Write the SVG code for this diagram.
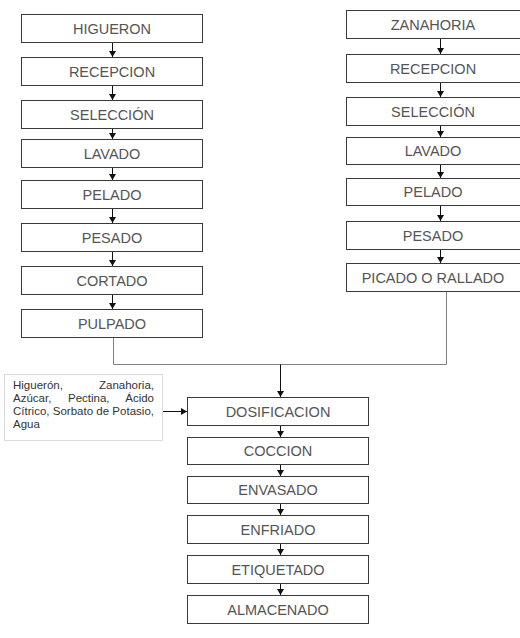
<svg xmlns="http://www.w3.org/2000/svg" width="520" height="638" viewBox="0 0 520 638">
<style>
.box{fill:#fff;stroke:#3a3a3a;stroke-width:1}
.lbl{font-family:"Liberation Sans",Arial,sans-serif;font-size:14.5px;fill:#555;text-anchor:middle}
.ing{font-family:"Liberation Sans",Arial,sans-serif;font-size:11.5px;fill:#333}
.arr{stroke:#111;stroke-width:1;fill:none;marker-end:url(#ah)}
.join{stroke:#808080;stroke-width:1;fill:none}
</style>
<defs>
<marker id="ah" markerWidth="8" markerHeight="8" refX="6" refY="3.5" orient="auto" markerUnits="userSpaceOnUse">
<path d="M0,0 L6,3.5 L0,7 Z" fill="#111"/>
</marker>
</defs>
<g id="connectors">
<line class="arr" x1="112.5" y1="42" x2="112.5" y2="57"/>
<line class="arr" x1="112.5" y1="85" x2="112.5" y2="100"/>
<line class="arr" x1="112.5" y1="128" x2="112.5" y2="139"/>
<line class="arr" x1="112.5" y1="167" x2="112.5" y2="180"/>
<line class="arr" x1="112.5" y1="208" x2="112.5" y2="223"/>
<line class="arr" x1="112.5" y1="252" x2="112.5" y2="266"/>
<line class="arr" x1="112.5" y1="294" x2="112.5" y2="309"/>
<line class="arr" x1="440.5" y1="39" x2="440.5" y2="54"/>
<line class="arr" x1="440.5" y1="82" x2="440.5" y2="97"/>
<line class="arr" x1="440.5" y1="125" x2="440.5" y2="137"/>
<line class="arr" x1="440.5" y1="164" x2="440.5" y2="178"/>
<line class="arr" x1="440.5" y1="205" x2="440.5" y2="221"/>
<line class="arr" x1="440.5" y1="249" x2="440.5" y2="263"/>
<polyline class="join" points="113.5,337 113.5,364.5 446.5,364.5 446.5,291"/>
<line class="arr" x1="280.5" y1="364.5" x2="280.5" y2="397"/>
<line class="arr" x1="155" y1="411.5" x2="187" y2="411.5"/>
<line class="arr" x1="280.5" y1="425" x2="280.5" y2="437"/>
<line class="arr" x1="280.5" y1="464" x2="280.5" y2="476"/>
<line class="arr" x1="280.5" y1="503" x2="280.5" y2="515"/>
<line class="arr" x1="280.5" y1="543" x2="280.5" y2="555"/>
<line class="arr" x1="280.5" y1="583" x2="280.5" y2="595"/>
</g>
<g id="higueron"><rect class="box" x="21.5" y="14.5" width="181" height="28"/><text class="lbl" x="112" y="33.5">HIGUERON</text></g>
<g id="recepcion1"><rect class="box" x="21.5" y="57.5" width="181" height="28"/><text class="lbl" x="112" y="76.5">RECEPCION</text></g>
<g id="seleccion1"><rect class="box" x="21.5" y="100.5" width="181" height="28"/><text class="lbl" x="112" y="119.5">SELECCIÓN</text></g>
<g id="lavado1"><rect class="box" x="21.5" y="139.5" width="181" height="28"/><text class="lbl" x="112" y="158.5">LAVADO</text></g>
<g id="pelado1"><rect class="box" x="21.5" y="180.5" width="181" height="28"/><text class="lbl" x="112" y="199.5">PELADO</text></g>
<g id="pesado1"><rect class="box" x="21.5" y="223.5" width="181" height="28"/><text class="lbl" x="112" y="242.5">PESADO</text></g>
<g id="cortado"><rect class="box" x="21.5" y="266.5" width="181" height="28"/><text class="lbl" x="112" y="285.5">CORTADO</text></g>
<g id="pulpado"><rect class="box" x="21.5" y="309.5" width="181" height="28"/><text class="lbl" x="112" y="328.5">PULPADO</text></g>
<g id="zanahoria"><rect class="box" x="346.5" y="10.5" width="180" height="28"/><text class="lbl" x="433" y="29.5">ZANAHORIA</text></g>
<g id="recepcion2"><rect class="box" x="346.5" y="54.5" width="180" height="28"/><text class="lbl" x="433" y="73.5">RECEPCION</text></g>
<g id="seleccion2"><rect class="box" x="346.5" y="97.5" width="180" height="28"/><text class="lbl" x="433" y="116.5">SELECCIÓN</text></g>
<g id="lavado2"><rect class="box" x="346.5" y="137.5" width="180" height="27"/><text class="lbl" x="433" y="156">LAVADO</text></g>
<g id="pelado2"><rect class="box" x="346.5" y="178.5" width="180" height="27"/><text class="lbl" x="433" y="197">PELADO</text></g>
<g id="pesado2"><rect class="box" x="346.5" y="221.5" width="180" height="28"/><text class="lbl" x="433" y="240.5">PESADO</text></g>
<g id="picado"><rect class="box" x="346.5" y="263.5" width="180" height="28"/><text class="lbl" x="433" y="282.5">PICADO O RALLADO</text></g>
<g id="ingredientes">
<rect x="4.5" y="374.5" width="158" height="66" fill="#fff" stroke="#dcdcdc" stroke-width="1"/>
<text class="ing" x="13" y="389">Higuerón,</text>
<text class="ing" x="154" y="389" text-anchor="end">Zanahoria,</text>
<text class="ing" x="13" y="402">Azúcar,</text>
<text class="ing" x="68" y="402">Pectina,</text>
<text class="ing" x="154" y="402" text-anchor="end">Ácido</text>
<text class="ing" x="13" y="415" textLength="141" lengthAdjust="spacing">Cítrico, Sorbato de Potasio,</text>
<text class="ing" x="13" y="428">Agua</text>
</g>
<g id="dosificacion"><rect class="box" x="187.5" y="397.5" width="181" height="28"/><text class="lbl" x="278" y="416.5">DOSIFICACION</text></g>
<g id="coccion"><rect class="box" x="187.5" y="437.5" width="181" height="27"/><text class="lbl" x="278" y="456">COCCION</text></g>
<g id="envasado"><rect class="box" x="187.5" y="476.5" width="181" height="27"/><text class="lbl" x="278" y="495">ENVASADO</text></g>
<g id="enfriado"><rect class="box" x="187.5" y="515.5" width="181" height="28"/><text class="lbl" x="278" y="534.5">ENFRIADO</text></g>
<g id="etiquetado"><rect class="box" x="187.5" y="555.5" width="181" height="28"/><text class="lbl" x="278" y="574.5">ETIQUETADO</text></g>
<g id="almacenado"><rect class="box" x="187.5" y="595.5" width="181" height="28"/><text class="lbl" x="278" y="614.5">ALMACENADO</text></g>
</svg>
